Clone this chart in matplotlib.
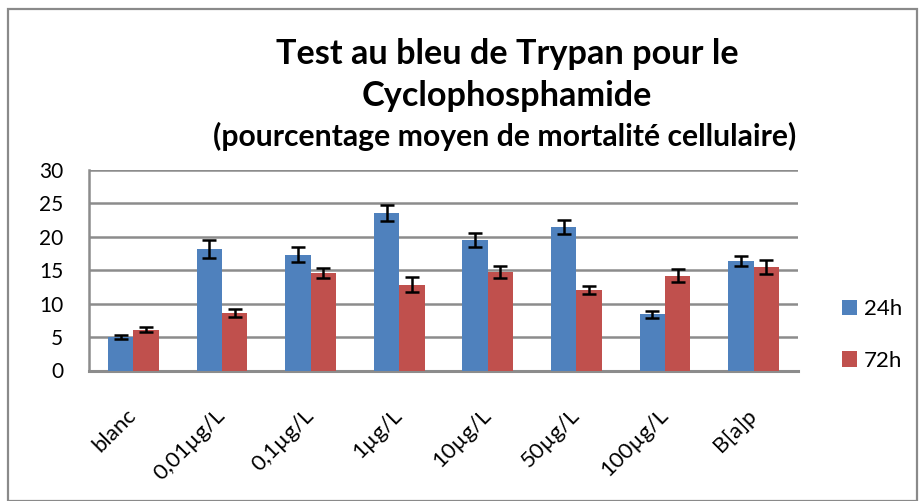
import matplotlib
matplotlib.use("Agg")
import matplotlib.pyplot as plt
import numpy as np
from matplotlib.patches import Rectangle

categories = ["blanc", "0,01µg/L", "0,1µg/L", "1µg/L", "10µg/L", "50µg/L", "100µg/L", "B[a]p"]
vals_24h = [5.0, 18.2, 17.35, 23.5, 19.55, 21.4, 8.4, 16.4]
err_24h = [0.35, 1.3, 1.1, 1.2, 1.05, 1.05, 0.52, 0.8]
vals_72h = [6.1, 8.6, 14.55, 12.85, 14.7, 12.05, 14.2, 15.5]
err_72h = [0.35, 0.55, 0.75, 1.1, 0.9, 0.57, 1.0, 1.1]
series_names = ["24h", "72h"]
yticks = [0, 5, 10, 15, 20, 25, 30]

FONT = ["Lato", "DejaVu Sans"]
plt.rcParams['font.family'] = FONT

W, H = 919, 501
fig = plt.figure(figsize=(W / 100, H / 100), dpi=100)
ax = fig.add_axes([89 / W, 1 - 370.5 / H, (798 - 89) / W, (370.5 - 170) / H])

x = np.arange(len(categories))
bw = 1 / 3.5
blue = "#4F81BD"
red = "#C0504D"
ekw = dict(elinewidth=1.8, capthick=1.8, ecolor="black")
ax.bar(x - bw / 2, vals_24h, bw, color=blue, yerr=err_24h, capsize=5, error_kw=ekw,
       label=series_names[0], zorder=3)
ax.bar(x + bw / 2, vals_72h, bw, color=red, yerr=err_72h, capsize=5, error_kw=ekw,
       label=series_names[1], zorder=3)

ax.set_xlim(-0.5, len(categories) - 0.5)
ax.set_ylim(0, 30)
ax.set_yticks(yticks)
ax.yaxis.grid(True, color="#8c8c8c", linewidth=1.8, zorder=0)
ax.set_axisbelow(True)
for s in ["top", "right"]:
    ax.spines[s].set_visible(False)
ax.spines["left"].set_color("#8c8c8c")
ax.spines["left"].set_linewidth(1.8)
ax.spines["bottom"].set_color("#8c8c8c")
ax.spines["bottom"].set_linewidth(2.2)
ax.tick_params(axis="y", length=0, labelsize=15, pad=18.5)
ax.tick_params(axis="x", length=0, labelsize=16, pad=30)
ax.set_xticks(x)
ax.set_xticklabels(categories, rotation=45, ha="right", va="center", rotation_mode="anchor")

# title
fig.text(507 / W, 1 - 64 / H, "Test au bleu de Trypan pour le", ha="center", va="baseline",
         fontsize=24.7, fontweight="bold")
fig.text(507 / W, 1 - 106 / H, "Cyclophosphamide", ha="center", va="baseline",
         fontsize=24.7, fontweight="bold")
fig.text(505 / W, 1 - 146 / H, "(pourcentage moyen de mortalité cellulaire)", ha="center",
         va="baseline", fontsize=21.7, fontweight="bold")

# legend
handles, labels = ax.get_legend_handles_labels()
fig.legend(handles, labels, loc="center left", bbox_to_anchor=(842 / W, 1 - 335 / H),
           frameon=False, fontsize=16, handlelength=0.68, handleheight=0.68,
           labelspacing=1.42, handletextpad=0.3, borderpad=0, borderaxespad=0)

# outer border
fig.patches.append(Rectangle((8 / W, 0), 909 / W, 1 - 9 / H, transform=fig.transFigure,
                             fill=False, edgecolor="#8a8a8a", linewidth=1.6))

fig.savefig("out.png", dpi=100)
